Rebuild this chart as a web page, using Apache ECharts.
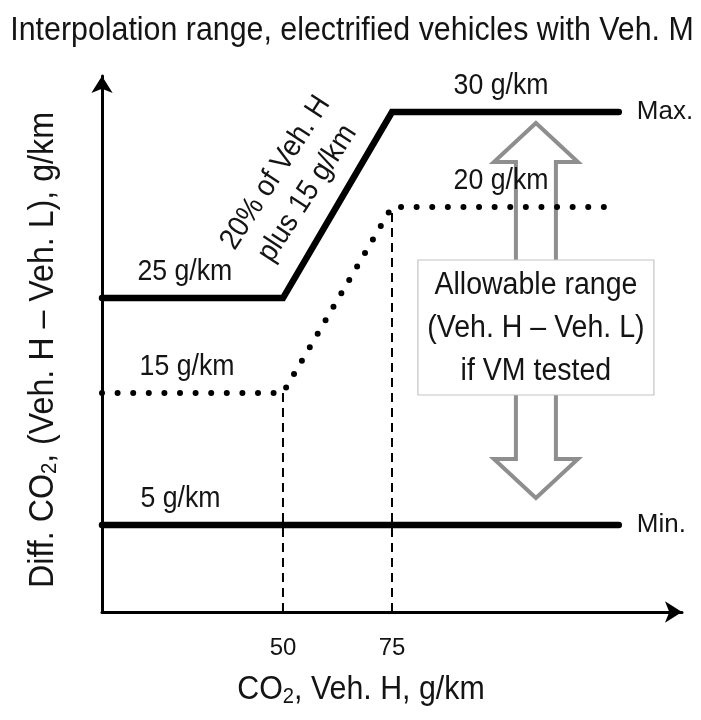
<!DOCTYPE html>
<html>
<head>
<meta charset="utf-8">
<script src="https://cdn.jsdelivr.net/npm/echarts@6/dist/echarts.min.js"></script>
<style>
  html, body { margin: 0; padding: 0; background: #fff; }
  #chart { width: 701px; height: 720px; }
</style>
</head>
<body>
<div id="chart"></div>
<script>
// Veh. H CO2 (g/km) where the envelope bends
const xTickLabels = [50, 75];

// Upper limit: 25 g/km, then 20 % of Veh. H plus 15 g/km, capped at 30 g/km
const maxX = [8.5, 50, 75, 127];
const maxY = [25, 25, 30, 30];

// Limit when Veh. M is tested: 15 g/km rising to 20 g/km
const vmX = [8.5, 50, 75, 124];
const vmY = [15, 15, 20, 20];

// Lower limit
const minX = [8.5, 127];
const minY = [5, 5];

// Values written next to the lines: [text, Veh. H, g/km, which line]
const lineLabels = [
  ['30 g/km', 100, 30, 'max'],
  ['20 g/km', 100, 20, 'vm'],
  ['25 g/km', 27.5, 25, 'max'],
  ['15 g/km', 28, 15, 'vm'],
  ['5 g/km', 26.5, 5, 'min']
];

const FONT = "'Liberation Sans', Arial, sans-serif";
const NARROW = 0.92;   // horizontal squeeze giving a narrow sans look
const INK = '#141414';

// The vertical axis is schematic (not to scale): each line sits on its own hidden value axis
const X_RANGE = [8.5, 141.5];
const Y_RANGES = { max: [16.56, 30.97], vm: [9.11, 23.52], min: [2.66, 17.07] };
const AXIS_INDEX = { max: 0, vm: 1, min: 2 };

const zip = (xs, ys) => xs.map((x, i) => [x, ys[i]]);

const chart = echarts.init(document.getElementById('chart'), null, { renderer: 'canvas' });

const axisLine = {
  show: true,
  symbol: ['none', 'arrow'],
  symbolSize: [16, 17],
  lineStyle: { color: '#000', width: 3 }
};

const yAxisFor = (key, visible) => ({
  type: 'value',
  min: Y_RANGES[key][0],
  max: Y_RANGES[key][1],
  show: visible,
  axisLine: axisLine,
  axisTick: { show: false },
  axisLabel: { show: false },
  splitLine: { show: false }
});

const solidStyle = { color: '#000', width: 6.5, cap: 'round', join: 'miter' };
const endLabel = (text) => ({
  show: true, formatter: text, distance: 18,
  fontFamily: FONT, fontSize: 26, color: INK
});

chart.setOption({
  animation: false,
  backgroundColor: '#fff',
  grid: { left: 102, right: 19, top: 76, bottom: 108 },
  xAxis: {
    type: 'value',
    min: X_RANGE[0],
    max: X_RANGE[1],
    axisLine: axisLine,
    axisTick: { show: false },
    splitLine: { show: false },
    axisLabel: {
      customValues: xTickLabels,
      margin: 24,
      fontFamily: FONT,
      fontSize: 24,
      color: INK
    }
  },
  yAxis: [yAxisFor('max', true), yAxisFor('vm', false), yAxisFor('min', false)],
  series: [
    {
      name: 'Max.',
      type: 'line',
      yAxisIndex: AXIS_INDEX.max,
      data: zip(maxX, maxY),
      symbol: 'none',
      lineStyle: solidStyle,
      z: 5,
      endLabel: endLabel('Max.')
    },
    {
      name: 'Veh. M tested',
      type: 'line',
      yAxisIndex: AXIS_INDEX.vm,
      data: zip(vmX, vmY),
      symbol: 'none',
      lineStyle: { color: '#000', width: 6, type: [0, 15.6], cap: 'round', join: 'round' },
      z: 5
    },
    {
      name: 'Min.',
      type: 'line',
      yAxisIndex: AXIS_INDEX.min,
      data: zip(minX, minY),
      symbol: 'none',
      lineStyle: solidStyle,
      z: 5,
      endLabel: endLabel('Min.')
    },
    // dashed guides from the Veh. H axis up to the bends of the Veh. M line
    ...xTickLabels.map((x) => ({
      type: 'line',
      yAxisIndex: AXIS_INDEX.vm,
      data: [[x, Y_RANGES.vm[0]], [x, vmY[vmX.indexOf(x)]]],
      symbol: 'none',
      lineStyle: { color: '#000', width: 2, type: [9, 6] },
      z: 3
    }))
  ]
});

// Annotations placed through the axes' own coordinate conversion
const px = (key, x, y) => chart.convertToPixel({ xAxisIndex: 0, yAxisIndex: AXIS_INDEX[key] }, [x, y]);

const subStyle = { sub: { font: `22px ${FONT}`, fill: INK, verticalAlign: 'bottom', padding: [14, 0, 0, 0] } };

// narrow text element centred on (x, y)
const txt = (x, y, text, size, extra) => Object.assign({
  type: 'text', x: x, y: y, z: 20, scaleX: NARROW,
  style: Object.assign({
    text: text, font: `${size}px ${FONT}`, fill: INK,
    align: 'center', verticalAlign: 'middle'
  }, (extra && extra.style) || {})
}, extra && extra.rotation !== undefined ? { rotation: extra.rotation } : {});

const graphics = [];

// chart title
graphics.push(txt(352, 31, 'Interpolation range, electrified vehicles with Veh. M', 33));

lineLabels.forEach(([text, x, y, key]) => {
  const p = px(key, x, y);
  graphics.push(txt(p[0], p[1] - 26, text, 29));
});

// formula written along the rising part of the upper limit
const slopeMid = px('max', (maxX[1] + maxX[2]) / 2, (maxY[1] + maxY[2]) / 2);
graphics.push(txt(slopeMid[0] - 46, slopeMid[1] - 22, '20% of Veh. H\nplus 15 g/km', 30, {
  rotation: 57 * Math.PI / 180,
  style: { lineHeight: 38 }
}));

// double arrow spanning the allowable range between the limits
const arrowTop = px('max', 108, 30);
const arrowBot = px('min', 108, 5);
const cx = arrowTop[0], ty = arrowTop[1] + 11, by = arrowBot[1] - 27;
const hw = 42, sw = 20, hl = 39;
graphics.push({
  type: 'polygon', z: 2,
  shape: {
    points: [
      [cx, ty], [cx + hw, ty + hl], [cx + sw, ty + hl], [cx + sw, by - hl], [cx + hw, by - hl],
      [cx, by], [cx - hw, by - hl], [cx - sw, by - hl], [cx - sw, ty + hl], [cx - hw, ty + hl]
    ]
  },
  style: { fill: 'none', stroke: '#8e8e8e', lineWidth: 4, lineJoin: 'miter' }
});

// boxed note in the middle of the arrow
graphics.push({
  type: 'rect', z: 10,
  shape: { x: cx - 118, y: 260, width: 236, height: 135 },
  style: { fill: '#fff', stroke: '#c4c4c4', lineWidth: 1.2 }
});
graphics.push(txt(cx, 328, 'Allowable range\n(Veh. H \u2013 Veh. L)\nif VM tested', 31, {
  style: { lineHeight: 43 }
}));

// axis titles
graphics.push(txt(361, 690, 'CO{sub|2}, Veh. H, g/km', 33, { style: { rich: subStyle } }));
graphics.push(txt(43, 350, 'Diff. CO{sub|2}, (Veh. H \u2013 Veh. L), g/km', 35, {
  rotation: Math.PI / 2,
  style: { rich: subStyle }
}));

chart.setOption({ graphic: graphics });
</script>
</body>
</html>
